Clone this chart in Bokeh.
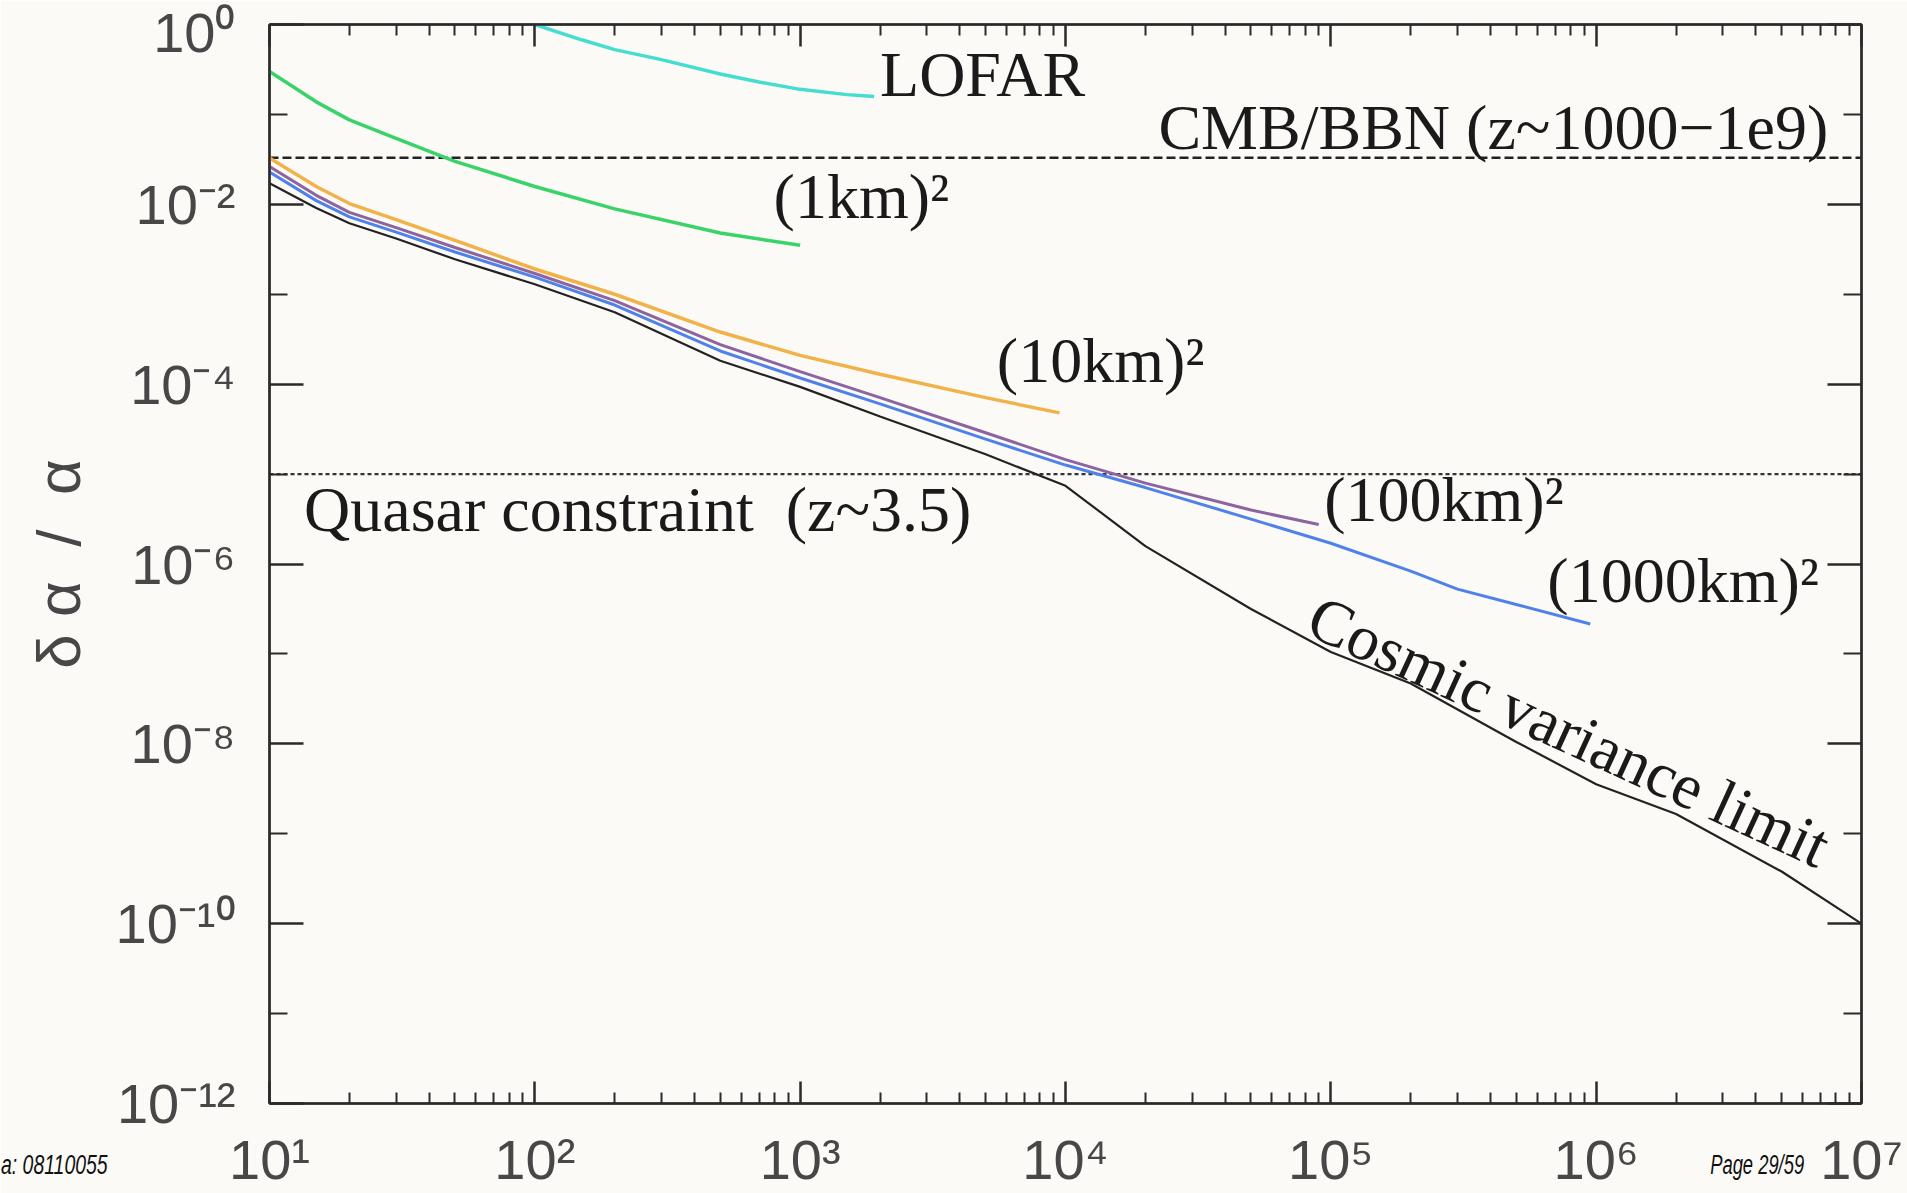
from bokeh.plotting import figure
from bokeh.models import LogAxis, FixedTicker, CustomJSTickFormatter, Range1d, Div
from bokeh.layouts import column
from bokeh.embed import file_html
from bokeh.resources import INLINE
from bokeh.core.properties import value

# ---------------- data ----------------
lofar_x = [100, 150, 200, 300, 500, 700, 1000, 1500, 1900]
lofar_y = [1.0, 0.676, 0.525, 0.407, 0.282, 0.229, 0.19, 0.166, 0.158]

km1_x = [10, 15, 20, 30, 50, 100, 200, 500, 1000]
km1_y = [0.30, 0.138, 0.087, 0.054, 0.030, 0.0158, 0.0089, 0.0048, 0.0035]

km10_x = [10, 15, 20, 30, 50, 100, 200, 500, 1000, 2000, 5000, 9500]
km10_y = [3.27e-2, 1.58e-2, 1.02e-2, 6.76e-3, 3.98e-3, 1.91e-3, 1.0e-3, 3.8e-4,
          2.09e-4, 1.29e-4, 7.08e-5, 4.79e-5]

km100_x = [10, 15, 20, 30, 50, 100, 200, 500, 1000, 2000, 5000, 10000, 20000, 50000, 90000]
km100_y = [2.63e-2, 1.26e-2, 8.13e-3, 5.50e-3, 3.31e-3, 1.70e-3, 8.51e-4, 2.75e-4,
           1.38e-4, 7.08e-5, 2.88e-5, 1.45e-5, 7.94e-6, 3.98e-6, 2.75e-6]

km1000_x = [10, 15, 20, 30, 50, 100, 200, 500, 1000, 2000, 5000, 10000, 20000, 50000,
            100000, 200000, 300000, 500000, 950000]
km1000_y = [2.29e-2, 1.10e-2, 7.24e-3, 4.90e-3, 2.95e-3, 1.55e-3, 7.59e-4, 2.34e-4,
            1.17e-4, 6.03e-5, 2.45e-5, 1.26e-5, 7.08e-6, 3.16e-6, 1.70e-6, 8.32e-7,
            5.25e-7, 3.55e-7, 2.15e-7]

cv_x = [10, 15, 20, 30, 50, 100, 200, 500, 1000, 2000, 5000, 10000, 20000, 50000,
        1e5, 2e5, 5e5, 1e6, 2e6, 5e6, 1e7]
cv_y = [1.72e-2, 9.12e-3, 6.17e-3, 4.17e-3, 2.45e-3, 1.29e-3, 6.31e-4, 1.82e-4,
        9.33e-5, 4.37e-5, 1.66e-5, 7.41e-6, 1.58e-6, 3.16e-7, 1.05e-7, 4.68e-8,
        1.05e-8, 3.55e-9, 1.66e-9, 3.80e-10, 1.0e-10]

cmb_level = 0.033
quasar_level = 1e-5
x_limits = [10, 1e7]
y_limits = [1e-12, 1.0]

x_tick_values = [1e1, 1e2, 1e3, 1e4, 1e5, 1e6, 1e7]
x_tick_labels = ["10\u00b9", "10\u00b2", "10\u00b3", "10\u2074", "10\u2075", "10\u2076", "10\u2077"]
y_tick_values = [1e-12, 1e-10, 1e-8, 1e-6, 1e-4, 1e-2, 1e0]
y_tick_labels = ["10\u207b\u00b9\u00b2", "10\u207b\u00b9\u2070", "10\u207b\u2078", "10\u207b\u2076",
                 "10\u207b\u2074", "10\u207b\u00b2", "10\u2070"]
y_minor_values = [1e-11, 1e-9, 1e-7, 1e-5, 1e-3, 1e-1]
x_minor_values = [k * 10.0 ** n for n in range(1, 7) for k in range(2, 10)]

NB = "\u00a0"
# text, x, y (baseline), angle
annotations = [
    ("LOFAR", 2000, 0.155, 0.0),
    ("CMB/BBN (z~1000\u22121e9)", 22400, 0.0399, 0.0),
    ("(1km)\u00b2", 794, 0.0068, 0.0),
    ("(10km)\u00b2", 5510, 1.03e-4, 0.0),
    ("Quasar constraint " + NB + "(z~3.5)", 13.5, 2.24e-6, 0.0),
    ("(100km)\u00b2", 94400, 2.86e-6, 0.0),
    ("(1000km)\u00b2", 654800, 3.6e-7, 0.0),
    ("Cosmic variance limit", 78000, 1.6e-7, -0.43),
]
footer_left = "a: 08110055"
footer_right = "Page 29/59"

# ---------------- figure ----------------
BG = "#fbfaf7"
AX = "#2a2a2a"
LBL = "#474747"
p = figure(width=1907, height=1193, x_axis_type="log", y_axis_type="log",
           x_range=Range1d(*x_limits), y_range=Range1d(*y_limits),
           output_backend="svg", toolbar_location=None,
           min_border_left=269, min_border_right=46, min_border_top=24, min_border_bottom=88,
           background_fill_color=BG, border_fill_color=BG)
p.grid.visible = False
p.outline_line_color = AX
p.outline_line_width = 2

fmt_code = """
let best = -1, bd = 1e9;
for (let i = 0; i < vals.length; i++) {
  const d = Math.abs(Math.log10(tick) - Math.log10(vals[i]));
  if (d < bd) { bd = d; best = i; }
}
return (bd < 1e-6) ? labs[best] : "";
"""
xfmt = CustomJSTickFormatter(args=dict(vals=x_tick_values, labs=x_tick_labels), code=fmt_code)
yfmt = CustomJSTickFormatter(args=dict(vals=y_tick_values, labs=y_tick_labels), code=fmt_code)
blank = CustomJSTickFormatter(code="return '';")

xt = FixedTicker(ticks=x_tick_values, minor_ticks=x_minor_values)
yt = FixedTicker(ticks=y_tick_values, minor_ticks=y_minor_values)


def style_axis(ax, ticker, major_in, minor_in):
    ax.ticker = ticker
    ax.axis_line_color = AX
    ax.axis_line_width = 2.5
    ax.major_tick_line_color = AX
    ax.minor_tick_line_color = AX
    ax.major_tick_line_width = 2.5
    ax.minor_tick_line_width = 2
    ax.major_tick_in = major_in
    ax.major_tick_out = 0
    ax.minor_tick_in = minor_in
    ax.minor_tick_out = 0


xa = p.xaxis[0]
style_axis(xa, xt, 22, 11)
xa.formatter = xfmt
xa.major_label_text_font = "Liberation Sans"
xa.major_label_text_font_size = "56px"
xa.major_label_text_color = LBL
xa.major_label_standoff = 24

ya = p.yaxis[0]
style_axis(ya, yt, 34, 18)
ya.formatter = yfmt
ya.major_label_text_font = "Liberation Sans"
ya.major_label_text_font_size = "56px"
ya.major_label_text_color = LBL
ya.major_label_standoff = 34
ya.axis_label = "\u03b4 \u03b1 " + NB + "/ " + NB + "\u03b1"
ya.axis_label_text_font = "Liberation Sans"
ya.axis_label_text_font_style = "normal"
ya.axis_label_text_font_size = "62px"
ya.axis_label_text_color = LBL
ya.axis_label_standoff = 20

top = LogAxis(formatter=blank)
style_axis(top, xt, 22, 11)
p.add_layout(top, "above")
right = LogAxis(formatter=blank)
style_axis(right, yt, 34, 18)
p.add_layout(right, "right")

# ---------------- reference lines ----------------
p.line(x_limits, [cmb_level, cmb_level], line_color="#222222", line_width=2.5, line_dash="9 4")
p.line(x_limits, [quasar_level, quasar_level], line_color="#333333", line_width=2.2, line_dash="4 3")

# ---------------- curves ----------------
p.line(lofar_x, lofar_y, line_color="#44ddd0", line_width=3.5)
p.line(km1_x, km1_y, line_color="#3ad36a", line_width=3.5)
p.line(km10_x, km10_y, line_color="#f2b24a", line_width=3.5)
p.line(km100_x, km100_y, line_color="#8c64a0", line_width=3)
p.line(km1000_x, km1000_y, line_color="#4f82e8", line_width=3)
p.line(cv_x, cv_y, line_color="#222222", line_width=2.2)

# ---------------- annotations ----------------
for txt, ax_, ay_, ang in annotations:
    if ang == 0.0:
        xo, yo = 0, -23
    else:
        xo, yo = 10, -22
    p.text(x=[ax_], y=[ay_], text=[txt], angle=ang, x_offset=xo, y_offset=yo,
           text_font=value("Liberation Serif"), text_font_size="64px",
           text_color="#1a1a1a", text_baseline="middle", text_align="left")

# ---------------- page footer (outside the plot frame) ----------------
footer_html = (
    '<div style="position:relative;width:1907px;height:34px;'
    "font-family:'Liberation Sans',sans-serif;"
    'font-style:italic;font-size:27px;line-height:34px;color:#111;">'
    '<span style="position:absolute;left:1px;top:0px;white-space:nowrap;'
    'transform:scaleX(0.72);transform-origin:left center;">%s</span>'
    '<span style="position:absolute;right:103px;top:0px;white-space:nowrap;'
    'transform:scaleX(0.68);transform-origin:right center;">%s</span>'
    '</div>' % (footer_left, footer_right)
)
footer = Div(text=footer_html, width=1907, height=34, margin=0,
             styles={"position": "absolute", "left": "0px", "top": "1148px",
                     "z-index": "10", "pointer-events": "none"})

layout = column(p, footer, spacing=0, margin=0)

open("out.html", "w").write(file_html(layout, INLINE))
